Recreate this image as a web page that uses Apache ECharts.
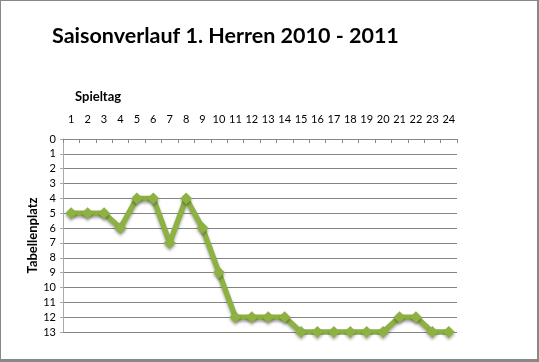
<!DOCTYPE html>
<html><head><meta charset="utf-8">
<script src="https://cdn.jsdelivr.net/npm/echarts@6/dist/echarts.min.js"></script>
<style>html,body{margin:0;padding:0;background:#fff}#c{width:539px;height:362px;box-sizing:border-box;border:1px solid #888;border-right-width:2px;border-bottom-width:3px}</style>
</head><body><div id="c"></div>
<script>
const spieltage = ['1','2','3','4','5','6','7','8','9','10','11','12','13','14','15','16','17','18','19','20','21','22','23','24'];
const platz = [5,5,5,6,4,4,7,4,6,9,12,12,12,12,13,13,13,13,13,13,12,12,13,13];
const yTicks = {min:0, max:13, interval:1};
const chart = echarts.init(document.getElementById('c'));
chart.setOption({
  animation:false,
  title:{text:'Saisonverlauf 1. Herren 2010 - 2011', left:46, top:19,
    textStyle:{fontFamily:'Lato', fontWeight:'bold', fontSize:21.5, color:'#000'}},
  grid:{left:62, right:80, top:138, bottom:27},
  xAxis:{type:'category', position:'top', data:spieltage, boundaryGap:true,
    name:'Spieltag', nameLocation:'start', nameGap:0, nameMoveOverlap:false,
    nameTextStyle:{fontFamily:'Lato', fontWeight:'bold', fontSize:13, color:'#000', align:'left', verticalAlign:'bottom', padding:[0,0,36,12]},
    axisLine:{show:true, lineStyle:{color:'#888'}},
    axisTick:{show:true, inside:true, length:4, lineStyle:{color:'#888'}},
    axisLabel:{fontFamily:'Lato', fontSize:11, color:'#000', margin:14, interval:0}},
  yAxis:{type:'value', inverse:true, min:yTicks.min, max:yTicks.max, interval:yTicks.interval,
    name:'Tabellenplatz', nameLocation:'middle', nameGap:24, nameRotate:90, nameMoveOverlap:false,
    nameTextStyle:{fontFamily:'Lato', fontWeight:'bold', fontSize:13, color:'#000'},
    axisLine:{show:true, lineStyle:{color:'#aaa'}},
    axisTick:{show:true, length:3, lineStyle:{color:'#aaa'}},
    axisLabel:{fontFamily:'Lato', fontSize:11, color:'#000', margin:7},
    splitLine:{show:true, lineStyle:{color:'#858585', width:1}}},
  series:[{type:'line', data:platz, symbol:'diamond', symbolSize:12,
    lineStyle:{color:'#8db243', width:5.5, shadowColor:'rgba(0,0,0,0.35)', shadowBlur:3, shadowOffsetY:2},
    itemStyle:{color:'#8db243', shadowColor:'rgba(0,0,0,0.35)', shadowBlur:3, shadowOffsetY:2}}]
});
</script></body></html>
